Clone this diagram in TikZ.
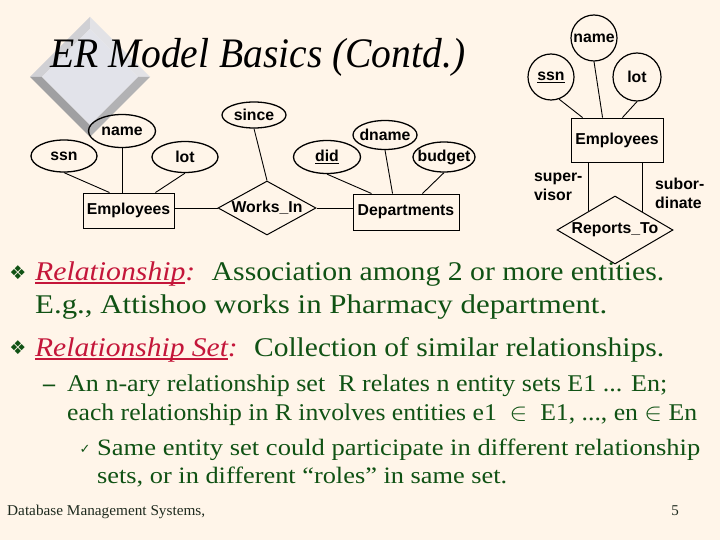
\documentclass[tikz,border=0pt]{standalone}
\usepackage{fontspec}
\setmainfont{Liberation Serif}
\setsansfont{Liberation Sans}
\newfontfamily\symfont{DejaVu Sans}
\usetikzlibrary{shapes.geometric,calc}
\definecolor{bgc}{RGB}{255,245,233}
\definecolor{txtg}{RGB}{16,82,20}
\definecolor{redt}{RGB}{196,22,58}
\definecolor{footc}{RGB}{30,42,30}
\definecolor{bevA}{RGB}{208,208,212}
\definecolor{bevB}{RGB}{226,226,230}
\definecolor{bevC}{RGB}{160,160,162}
\definecolor{bevD}{RGB}{178,178,180}
\definecolor{face}{RGB}{226,227,234}
\newsavebox\fitbox
\newsavebox\ulbox
\newcommand\fitw[2]{\sbox\fitbox{#2}\pgfmathsetmacro\myratio{#1/\the\wd\fitbox}\scalebox{\myratio}[1]{\usebox\fitbox}}
\newcommand\redul[1]{{\color{redt}\itshape\sbox\ulbox{#1}\rlap{\rule[-3.6pt]{\wd\ulbox}{1.3pt}}\usebox\ulbox}}
\newcommand\zw[1]{\makebox[0pt]{#1}}
\tikzset{
  erlbl/.style={font=\sffamily\bfseries\fontsize{15.8}{19}\selectfont},
  attr/.style={erlbl, ellipse, draw, line width=1.3pt, inner sep=0},
  attrc/.style={erlbl, circle, draw, line width=1.2pt, inner sep=0, minimum size=46pt},
  entity/.style={erlbl, rectangle, draw, line width=0.9pt, inner sep=0},
  relship/.style={erlbl, diamond, draw, line width=1pt, inner sep=0},
  conn/.style={line width=0.9pt},
  body/.style={anchor=base west, inner sep=0, text=txtg},
  bul/.style={inner sep=0, text=txtg}
}
\begin{document}
\begin{tikzpicture}[x=1pt,y=-1pt]
\fill[bgc] (0,0) rectangle (720,540);
\useasboundingbox (0,0) rectangle (720,540);
% bevelled decorative diamond
\coordinate (dT) at (90,17); \coordinate (dL) at (30,77);
\coordinate (dR) at (150,77); \coordinate (dB) at (90,137);
\coordinate (iT) at (90,29); \coordinate (iL) at (42,77);
\coordinate (iR) at (138,77); \coordinate (iB) at (90,125);
\fill[bevA] (dT)--(dL)--(iL)--(iT)--cycle;
\fill[bevB] (dT)--(dR)--(iR)--(iT)--cycle;
\fill[bevC] (dL)--(dB)--(iB)--(iL)--cycle;
\fill[bevD] (dB)--(dR)--(iR)--(iB)--cycle;
\fill[face] (iT)--(iL)--(iB)--(iR)--cycle;
% title
\node[anchor=base west, inner sep=0] (title) at (50,68)
  {\fitw{415}{\fontsize{42}{46}\selectfont\itshape ER Model Basics (Contd.)}};
% ---- left ER diagram
\node[attr, minimum width=66pt, minimum height=32pt] (ssn1) at (64,156) {\zw{ssn}};
\node[attr, minimum width=67pt, minimum height=33pt] (name1) at (122,131) {\zw{name}};
\node[attr, minimum width=66pt, minimum height=31pt] (lot1) at (185,157) {\zw{lot}};
\node[entity, minimum width=91pt, minimum height=35pt] (emp1) at (128.5,210.5) {Employees};
\node[relship, minimum width=98pt, minimum height=54pt] (works) at (267,208) {\zw{Works\_In}};
\node[attr, minimum width=64pt, minimum height=26pt] (since) at (254,115) {\zw{since}};
\node[entity, minimum width=106pt, minimum height=36pt] (dept) at (406,212) {Departments};
\node[attr, minimum width=67pt, minimum height=33pt] (did) at (327,157) {\zw{\underline{did}}};
\node[attr, minimum width=64pt, minimum height=29pt] (dname) at (385,135) {\zw{dname}};
\node[attr, minimum width=62pt, minimum height=30pt] (budget) at (444,157) {\zw{budget}};
\draw[conn] (ssn1.south) -- ([xshift=27pt]emp1.north west);
\draw[conn] (name1.south) -- (name1.south |- emp1.north);
\draw[conn] (lot1.south) -- ([xshift=-19pt]emp1.north east);
\draw[conn] (emp1.east |- works.west) -- (works.west);
\draw[conn] (works.east) -- (works.east -| dept.west);
\draw[conn] (since.south) -- (works.north);
\draw[conn] (did.south) -- ([xshift=19pt]dept.north west);
\draw[conn] (dname.south) -- ([xshift=40pt]dept.north west);
\draw[conn] (budget.south) -- ([xshift=-37pt]dept.north east);
% ---- right ER diagram
\node[attrc] (name2) at (594,38) {\zw{name}};
\node[attrc] (ssn2) at (551,77) {\zw{\underline{ssn}}};
\node[attrc, minimum size=48pt] (lot2) at (637,77) {\zw{lot}};
\node[entity, minimum width=92pt, minimum height=44pt] (emp2) at (617,140) {Employees};
\node[relship, minimum width=116pt, minimum height=68pt] (reports) at (615,230) {\zw{Reports\_To}};
\draw[conn] (ssn2.-70) -- ([xshift=12pt]emp2.north west);
\draw[conn] (name2.south) -- ([xshift=32pt]emp2.north west);
\draw[conn] (lot2.south) -- ([xshift=-41pt]emp2.north east);
\coordinate (sv) at ($(reports.west)!0.552!(reports.north)$);
\coordinate (sb) at ($(reports.north)!0.466!(reports.east)$);
\draw[conn] (sv |- emp2.south) -- (sv);
\draw[conn] (sb |- emp2.south) -- (sb);
\node[erlbl, align=left, anchor=base west, inner sep=0] (suplbl) at (534,201) {super-\\visor};
\node[erlbl, align=left, anchor=base west, inner sep=0] (sublbl) at (655,208) {subor-\\dinate};
% ---- text body
\node[bul] (b1) at (18,273) {\symfont\fontsize{19}{19}\selectfont ❖};
\node[body] (l1) at (35,280) {\fitw{629}{\fontsize{27}{30}\selectfont\redul{Relationship}\textcolor{redt}{\itshape :}\hspace{0.55em}Association among 2 or more entities.}};
\node[body] (l2) at (35,313) {\fitw{572}{\fontsize{27}{30}\selectfont E.g., Attishoo works in Pharmacy department.}};
\node[bul] (b2) at (18,348) {\symfont\fontsize{19}{19}\selectfont ❖};
\node[body] (l3) at (35,356) {\fitw{629}{\fontsize{27}{30}\selectfont\redul{Relationship Set}\textcolor{redt}{\itshape :}\hspace{0.55em}Collection of similar relationships.}};
\node[body] (d1) at (43,391) {\fontsize{24}{26}\selectfont\bfseries –};
\node[body] (s1) at (67,391) {\fitw{600}{\fontsize{24}{26}\selectfont An n-ary relationship set\ \ R relates n entity sets E1 ... En;}};
\node[body] (s2) at (67,420) {\fitw{630}{\fontsize{24}{26}\selectfont each relationship in R involves entities e1\ \ $\in$\ \ E1, ..., en $\in$ En}};
\node[bul] (c0) at (85,449) {\symfont\fontsize{13}{13}\selectfont ✓};
\node[body] (c1) at (97,455) {\fitw{603}{\fontsize{23.5}{26}\selectfont Same entity set could participate in different relationship}};
\node[body] (c2) at (97,483) {\fitw{410}{\fontsize{23.5}{26}\selectfont sets, or in different “roles” in same set.}};
\node[body, text=footc] (foot) at (7,515) {\fitw{198}{\fontsize{15}{16}\selectfont Database Management Systems,}};
\node[anchor=base east, inner sep=0, text=footc] (page) at (679,515) {\fontsize{15}{16}\selectfont 5};
\end{tikzpicture}
\end{document}
